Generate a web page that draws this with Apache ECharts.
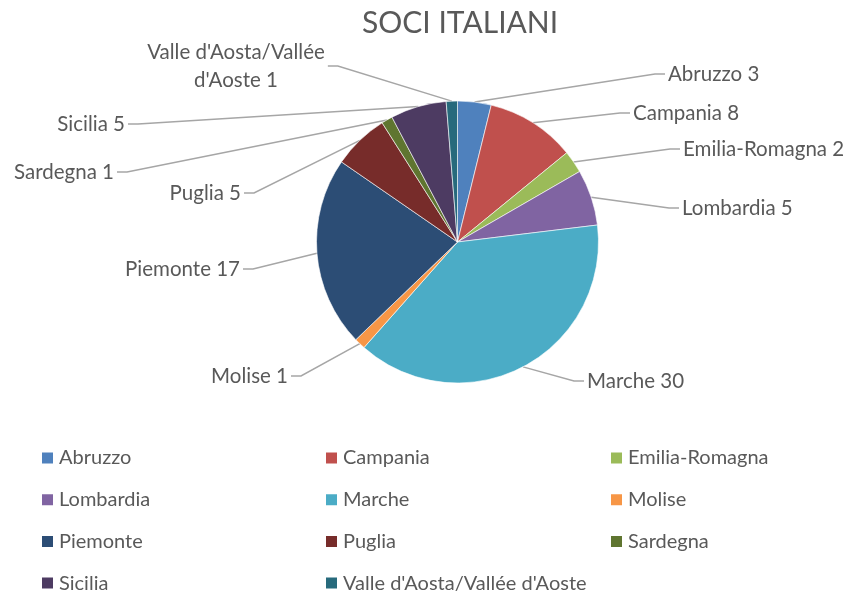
<!DOCTYPE html>
<html>
<head>
<meta charset="utf-8">
<script src="https://cdn.jsdelivr.net/npm/echarts@6/dist/echarts.min.js"></script>
<style>
  html, body { margin: 0; padding: 0; background: #fff; }
  #chart { width: 851px; height: 596px; }
</style>
</head>
<body>
<div id="chart"></div>
<script>
// dati
const regioni = ['Abruzzo', 'Campania', 'Emilia-Romagna', 'Lombardia', 'Marche', 'Molise',
  'Piemonte', 'Puglia', 'Sardegna', 'Sicilia', "Valle d'Aosta/Vallée d'Aoste"];
const soci = [3, 8, 2, 5, 30, 1, 17, 5, 1, 5, 1];
const colori = ['#4F81BD', '#C0504D', '#9BBB59', '#8064A2', '#4BACC6', '#F79646',
  '#2C4D75', '#772C2A', '#5F7530', '#4D3B62', '#276A7C'];

// dove stanno le etichette (stile Excel)
const posEtichette = [
  [665, 74, 'left'], [630, 113, 'left'], [680, 149, 'left'], [679, 208, 'left'],
  [584, 381, 'left'], [291, 376, 'right'], [243, 269, 'right'], [244, 193, 'right'],
  [117, 172, 'right'], [128, 124, 'right'], [236, 66, 'center']
];

const font = 'Lato';
const grigio = '#595959';

const myChart = echarts.init(document.getElementById('chart'));

// legenda su 3 colonne
const colonne = [[], [], []];
regioni.forEach((r, i) => colonne[i % 3].push(r));
const colX = [40, 324, 609];

myChart.setOption({
  color: colori,
  title: {
    text: 'SOCI ITALIANI',
    left: 362,
    top: 8,
    padding: 0,
    textStyle: { fontFamily: font, fontSize: 30, fontWeight: 'normal', color: grigio },
  },
  legend: colonne.map((col, k) => ({
    data: col,
    orient: 'vertical',
    left: colX[k],
    top: 448,
    padding: 0,
    icon: 'rect',
    itemWidth: 13,
    itemHeight: 13,
    itemGap: 21.7,
    selectedMode: false,
    textStyle: { fontFamily: font, fontSize: 20, color: grigio, lineHeight: 20 },
  })),
  series: [
    {
      type: 'pie',
      center: [457.5, 242],
      radius: 141,
      startAngle: 90,
      clockwise: true,
      avoidLabelOverlap: false,
      itemStyle: { borderColor: '#fff', borderWidth: 0.6 },
      label: {
        show: true,
        fontFamily: font,
        fontSize: 20.5,
        color: grigio,
        padding: [0, 3],
        lineHeight: 28,
        formatter: (p) => p.dataIndex === 10
          ? "Valle d'Aosta/Vallée\nd'Aoste " + p.value
          : p.name + ' ' + p.value,
      },
      labelLine: {
        show: true,
        length: 20,
        length2: 10,
        smooth: false,
        lineStyle: { color: '#A6A6A6', width: 1.5 },
      },
      labelLayout: (params) => {
        const p = posEtichette[params.dataIndex];
        return { x: p[0], y: p[1], align: p[2], verticalAlign: 'middle', hideOverlap: false };
      },
      emphasis: { disabled: true },
      data: regioni.map((r, i) => ({ name: r, value: soci[i] })),
    },
  ],
});
</script>
</body>
</html>
